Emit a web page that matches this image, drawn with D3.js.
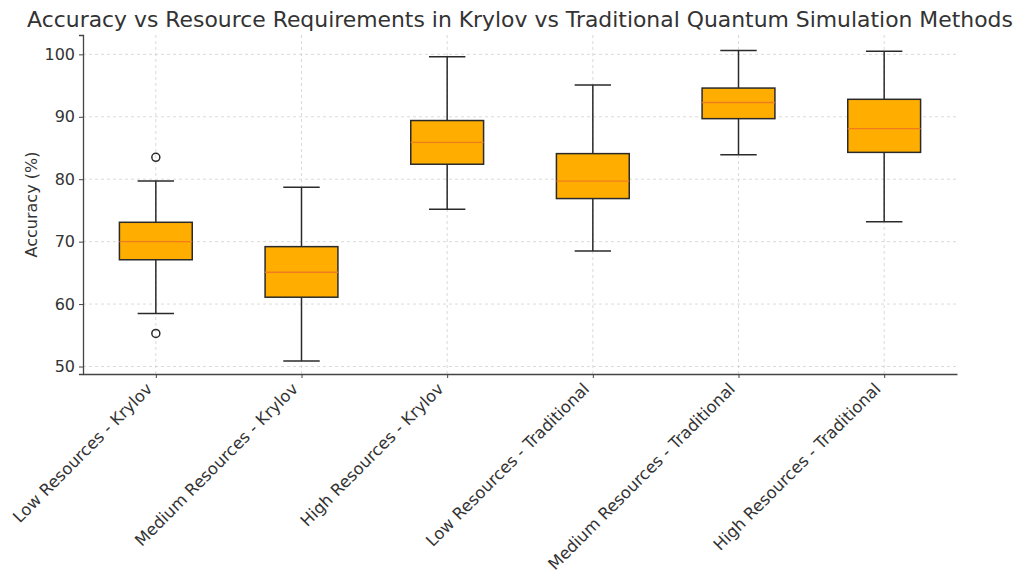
<!DOCTYPE html>
<html><head><meta charset="utf-8">
<script src="https://cdn.jsdelivr.net/npm/d3@7"></script>
<style>body{margin:0;background:#fff;}svg{display:block;font-family:"DejaVu Sans",sans-serif;}</style>
</head><body><svg id="c" width="1024" height="582"></svg>
<script>
const categories = ["Low Resources - Krylov","Medium Resources - Krylov","High Resources - Krylov","Low Resources - Traditional","Medium Resources - Traditional","High Resources - Traditional"];
const whiskerLow  = [58.5, 50.9, 75.2, 68.5, 83.9, 73.2];
const q1          = [67.1, 61.1, 82.4, 76.9, 89.7, 84.3];
const median      = [70.0, 65.1, 85.9, 79.7, 92.3, 88.1];
const q3          = [73.1, 69.2, 89.4, 84.1, 94.6, 92.8];
const whiskerHigh = [79.7, 78.7, 99.6, 95.1, 100.6, 100.5];
const outliers    = [[83.5, 55.3], [], [], [], [], []];
const yTicks = [50, 60, 70, 80, 90, 100];

const svg = d3.select("#c");
const m = {l: 83, r: 957, t: 35, b: 374};
const x = d3.scaleLinear().domain([0.5, 6.5]).range([m.l, m.r]);
const y = d3.scaleLinear().domain([48.8, 103.1]).range([m.b, m.t]);
const boxW = x(1.25) - x(1);
const capW = x(1.125) - x(1);

const g = svg.append("g");
// grid
g.selectAll(".gy").data(yTicks).join("line")
  .attr("x1", m.l).attr("x2", m.r).attr("y1", d => y(d)).attr("y2", d => y(d))
  .attr("stroke", "#d0d0d0").attr("stroke-dasharray", "3,3").attr("stroke-width", 0.8);
g.selectAll(".gx").data(categories).join("line")
  .attr("x1", (d, i) => x(i + 1)).attr("x2", (d, i) => x(i + 1)).attr("y1", m.t).attr("y2", m.b)
  .attr("stroke", "#d0d0d0").attr("stroke-dasharray", "3,3").attr("stroke-width", 0.8);

// axes
const yAxis = svg.append("g").attr("transform", `translate(${m.l},0)`)
  .call(d3.axisLeft(y).tickValues(yTicks).tickSize(4).tickPadding(4));
yAxis.select(".domain").attr("stroke", "#444").attr("stroke-width", 1.3);
yAxis.selectAll(".tick line").attr("stroke", "#444");
yAxis.selectAll("text").attr("font-size", 16).attr("fill", "#333").attr("font-family", "DejaVu Sans");

const xAxis = svg.append("g").attr("transform", `translate(0,${m.b})`)
  .call(d3.axisBottom(x).tickValues(d3.range(1, 7)).tickFormat(d => categories[d - 1]).tickSize(4).tickSizeOuter(0));
xAxis.select(".domain").attr("stroke", "#444").attr("stroke-width", 1.3);
xAxis.selectAll(".tick line").attr("stroke", "#444");
xAxis.selectAll("text").attr("font-size", 16.4).attr("fill", "#333").attr("font-family", "DejaVu Sans")
  .attr("text-anchor", "end").attr("y", 0).attr("dy", 0)
  .attr("transform", "translate(-3,16) rotate(-45)");

// boxes
const bx = svg.append("g");
const ec = "#2a2a2a", lw = 1.5;
categories.forEach((c, i) => {
  const cx = x(i + 1);
  const s = bx.append("g");
  s.append("line").attr("x1", cx).attr("x2", cx).attr("y1", y(q3[i])).attr("y2", y(whiskerHigh[i])).attr("stroke", ec).attr("stroke-width", lw);
  s.append("line").attr("x1", cx).attr("x2", cx).attr("y1", y(q1[i])).attr("y2", y(whiskerLow[i])).attr("stroke", ec).attr("stroke-width", lw);
  s.append("line").attr("x1", cx - capW).attr("x2", cx + capW).attr("y1", y(whiskerHigh[i])).attr("y2", y(whiskerHigh[i])).attr("stroke", ec).attr("stroke-width", lw);
  s.append("line").attr("x1", cx - capW).attr("x2", cx + capW).attr("y1", y(whiskerLow[i])).attr("y2", y(whiskerLow[i])).attr("stroke", ec).attr("stroke-width", lw);
  s.append("rect").attr("x", cx - boxW).attr("width", 2 * boxW).attr("y", y(q3[i])).attr("height", y(q1[i]) - y(q3[i]))
    .attr("fill", "#FFAE00").attr("stroke", ec).attr("stroke-width", lw);
  s.append("line").attr("x1", cx - boxW).attr("x2", cx + boxW).attr("y1", y(median[i])).attr("y2", y(median[i])).attr("stroke", "#F07C1E").attr("stroke-width", 1.4);
  s.selectAll("circle").data(outliers[i]).join("circle").attr("cx", cx).attr("cy", d => y(d)).attr("r", 4)
    .attr("fill", "none").attr("stroke", ec).attr("stroke-width", lw);
});

// title & labels
svg.append("text").attr("x", (m.l + m.r) / 2).attr("y", 27).attr("text-anchor", "middle")
  .attr("font-size", 21.9).attr("fill", "#333").text("Accuracy vs Resource Requirements in Krylov vs Traditional Quantum Simulation Methods");
svg.append("text").attr("transform", `translate(37,${(m.t + m.b) / 2}) rotate(-90)`).attr("text-anchor", "middle")
  .attr("font-size", 16).attr("fill", "#333").text("Accuracy (%)");
</script></body></html>
